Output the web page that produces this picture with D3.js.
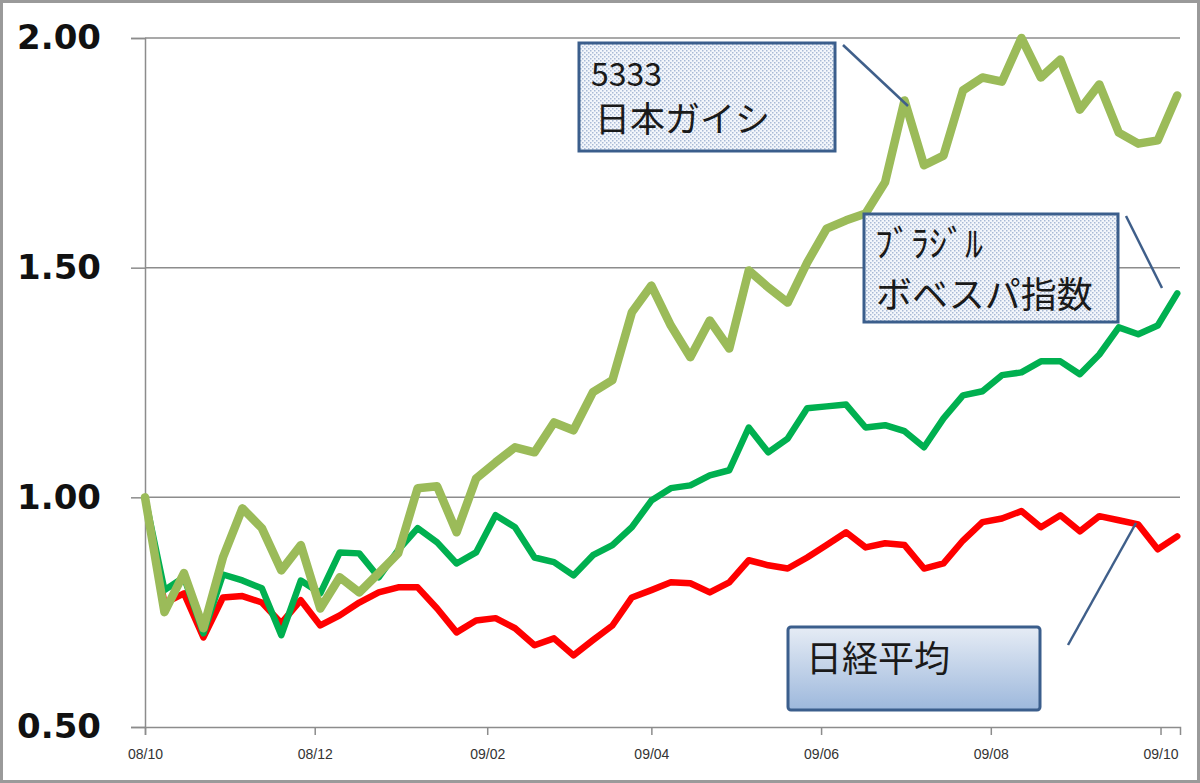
<!DOCTYPE html>
<html>
<head>
<meta charset="utf-8">
<script src="https://cdn.jsdelivr.net/npm/d3@7"></script>
<style>
  body { margin: 0; background: #fff; }
  svg { display: block; }
</style>
</head>
<body>
<svg width="1200" height="783"></svg>
<script>
// weekly closes, relative to the first week (=1.00)
var dates = [
  "2008-10-03","2008-10-10","2008-10-17","2008-10-24","2008-10-31","2008-11-07","2008-11-14","2008-11-21","2008-11-28",
  "2008-12-05","2008-12-12","2008-12-19","2008-12-26","2009-01-02","2009-01-09","2009-01-16","2009-01-23","2009-01-30",
  "2009-02-06","2009-02-13","2009-02-20","2009-02-27","2009-03-06","2009-03-13","2009-03-20","2009-03-27","2009-04-03",
  "2009-04-10","2009-04-17","2009-04-24","2009-05-01","2009-05-08","2009-05-15","2009-05-22","2009-05-29","2009-06-05",
  "2009-06-12","2009-06-19","2009-06-26","2009-07-03","2009-07-10","2009-07-17","2009-07-24","2009-07-31","2009-08-07",
  "2009-08-14","2009-08-21","2009-08-28","2009-09-04","2009-09-11","2009-09-18","2009-09-25","2009-10-02","2009-10-09"
];

var ngk = [
  1.000,0.750,0.835,0.715,0.869,0.976,0.933,0.841,0.896,0.758,0.826,0.793,0.835,0.878,1.020,1.024,0.924,1.041,
  1.076,1.109,1.098,1.163,1.146,1.229,1.255,1.403,1.461,1.374,1.305,1.385,1.324,1.494,1.457,1.424,1.511,1.585,
  1.603,1.618,1.686,1.864,1.723,1.744,1.886,1.914,1.905,2.000,1.914,1.953,1.844,1.899,1.794,1.770,1.777,1.875
];

var bovespa = [
  1.000,0.798,0.826,0.704,0.832,0.819,0.802,0.700,0.819,0.791,0.880,0.878,0.826,0.885,0.933,0.902,0.856,0.880,
  0.961,0.935,0.869,0.859,0.830,0.874,0.896,0.935,0.993,1.020,1.026,1.048,1.059,1.152,1.098,1.128,1.194,1.198,
  1.202,1.152,1.157,1.144,1.109,1.172,1.222,1.231,1.266,1.272,1.296,1.296,1.268,1.311,1.370,1.355,1.374,1.444
];

var nikkei = [
  1.000,0.769,0.791,0.695,0.782,0.785,0.771,0.726,0.776,0.721,0.743,0.771,0.793,0.804,0.804,0.758,0.706,0.732,
  0.737,0.715,0.678,0.693,0.656,0.689,0.721,0.782,0.798,0.815,0.813,0.793,0.815,0.863,0.852,0.845,0.869,0.896,
  0.924,0.891,0.900,0.896,0.845,0.856,0.906,0.946,0.954,0.970,0.935,0.961,0.926,0.959,0.950,0.941,0.887,0.915
];

var tickDates = ["2008-10-03","2008-12-03","2009-02-03","2009-04-03","2009-06-03","2009-08-03","2009-10-03"];
var tickLabels = ["08/10","08/12","09/02","09/04","09/06","09/08","09/10"];
var yTicks = [0.5, 1.0, 1.5, 2.0];

var parse = d3.timeParse("%Y-%m-%d");

var svg = d3.select("svg");

var x = d3.scaleTime()
  .domain([parse("2008-10-03"), parse("2009-10-10")])
  .range([145, 1180]);
var y = d3.scaleLinear().domain([0.5, 2.0]).range([727, 38]);

var defs = svg.append("defs");
var pat = defs.append("pattern")
  .attr("id", "dots")
  .attr("width", 4).attr("height", 4)
  .attr("patternUnits", "userSpaceOnUse");
pat.append("rect").attr("width", 4).attr("height", 4).attr("fill", "#f3f6fb");
pat.append("rect").attr("x", 0).attr("y", 0).attr("width", 1.5).attr("height", 1.5).attr("fill", "#a9bad6");
pat.append("rect").attr("x", 2).attr("y", 2).attr("width", 1.5).attr("height", 1.5).attr("fill", "#a9bad6");

var grad = defs.append("linearGradient")
  .attr("id", "blueGrad")
  .attr("x1", 0).attr("y1", 0).attr("x2", 0).attr("y2", 1);
grad.append("stop").attr("offset", "0%").attr("stop-color", "#e6ecf5");
grad.append("stop").attr("offset", "100%").attr("stop-color", "#9db8dc");

// outer frame
svg.append("rect")
  .attr("x", 1.5).attr("y", 1.5)
  .attr("width", 1197).attr("height", 780)
  .attr("fill", "#fff")
  .attr("stroke", "#9a9a9a")
  .attr("stroke-width", 3);

// grid
svg.append("g")
  .selectAll("line")
  .data(yTicks.filter(function(d) { return d > 0.5; }))
  .enter().append("line")
  .attr("x1", 145).attr("x2", 1180)
  .attr("y1", function(d) { return y(d); })
  .attr("y2", function(d) { return y(d); })
  .attr("stroke", "#8c8c8c")
  .attr("stroke-width", 1.5);

// y axis
var yAxis = svg.append("g")
  .attr("transform", "translate(145,0)")
  .call(d3.axisLeft(y).tickValues(yTicks).tickSize(14).tickPadding(30).tickFormat(d3.format(".2f")));
yAxis.select(".domain").attr("stroke", "#8c8c8c").attr("stroke-width", 1.5);
yAxis.selectAll(".tick line").attr("stroke", "#8c8c8c").attr("stroke-width", 1.5);
yAxis.selectAll("text")
  .attr("fill", "#111")
  .style("font-family", "'DejaVu Sans', Verdana, sans-serif")
  .style("font-weight", "bold")
  .style("font-size", "34px");

// x axis
var xAxis = svg.append("g")
  .attr("transform", "translate(0,727)")
  .call(d3.axisBottom(x)
    .tickValues(tickDates.map(parse))
    .tickSize(8)
    .tickPadding(14)
    .tickFormat(function(d, i) { return tickLabels[i]; }));
xAxis.select(".domain").attr("stroke", "#8c8c8c").attr("stroke-width", 1.5);
xAxis.selectAll(".tick line").attr("stroke", "#8c8c8c").attr("stroke-width", 1.5);
xAxis.selectAll("text")
  .attr("fill", "#333")
  .style("font-family", "'Liberation Sans Narrow', 'Liberation Sans', sans-serif")
  .style("font-size", "14px");

// series
var series = [
  { values: nikkei, color: "#ff0000", width: 6.5 },
  { values: bovespa, color: "#00b050", width: 6.5 },
  { values: ngk, color: "#9bbb59", width: 8.5 }
];

var line = d3.line()
  .x(function(d, i) { return x(parse(dates[i])); })
  .y(function(d) { return y(d); });

svg.append("g")
  .selectAll("path")
  .data(series)
  .enter().append("path")
  .attr("d", function(s) { return line(s.values); })
  .attr("fill", "none")
  .attr("stroke", function(s) { return s.color; })
  .attr("stroke-width", function(s) { return s.width; })
  .attr("stroke-linejoin", "round")
  .attr("stroke-linecap", "round");

// callouts
var jp = "'Noto Sans CJK JP', sans-serif";

function connector(x1, y1, x2, y2) {
  svg.append("line")
    .attr("x1", x1).attr("y1", y1).attr("x2", x2).attr("y2", y2)
    .attr("stroke", "#3f5f8a").attr("stroke-width", 2.5);
}

// 5333 日本ガイシ
svg.append("rect")
  .attr("x", 579).attr("y", 43).attr("width", 256).attr("height", 108)
  .attr("fill", "url(#dots)").attr("stroke", "#3b5e8c").attr("stroke-width", 3);
svg.append("text").attr("x", 591).attr("y", 86)
  .style("font-family", jp).style("font-size", "32px").attr("fill", "#1a1a1a").text("5333");
svg.append("text").attr("x", 595).attr("y", 132)
  .style("font-family", jp).style("font-size", "35px").attr("fill", "#1a1a1a").text("日本ガイシ");
connector(843, 45, 908, 106);

// ﾌﾞﾗｼﾞﾙ ボベスパ指数
svg.append("rect")
  .attr("x", 864).attr("y", 214).attr("width", 254).attr("height", 108)
  .attr("fill", "url(#dots)").attr("stroke", "#3b5e8c").attr("stroke-width", 3);
svg.append("text").attr("x", 875).attr("y", 257)
  .style("font-family", jp).style("font-size", "36px").attr("fill", "#1a1a1a").text("ﾌﾞﾗｼﾞﾙ");
svg.append("text").attr("x", 876).attr("y", 308)
  .style("font-family", jp).style("font-size", "36px").attr("fill", "#1a1a1a").text("ボベスパ指数");
connector(1126, 216, 1162, 288);

// 日経平均
svg.append("rect")
  .attr("x", 788).attr("y", 627).attr("width", 252).attr("height", 83)
  .attr("rx", 3)
  .attr("fill", "url(#blueGrad)").attr("stroke", "#3b5e8c").attr("stroke-width", 3);
svg.append("text").attr("x", 806).attr("y", 672)
  .style("font-family", jp).style("font-size", "36px").attr("fill", "#1a1a1a").text("日経平均");
connector(1068, 645, 1136, 523);
</script>
</body>
</html>
